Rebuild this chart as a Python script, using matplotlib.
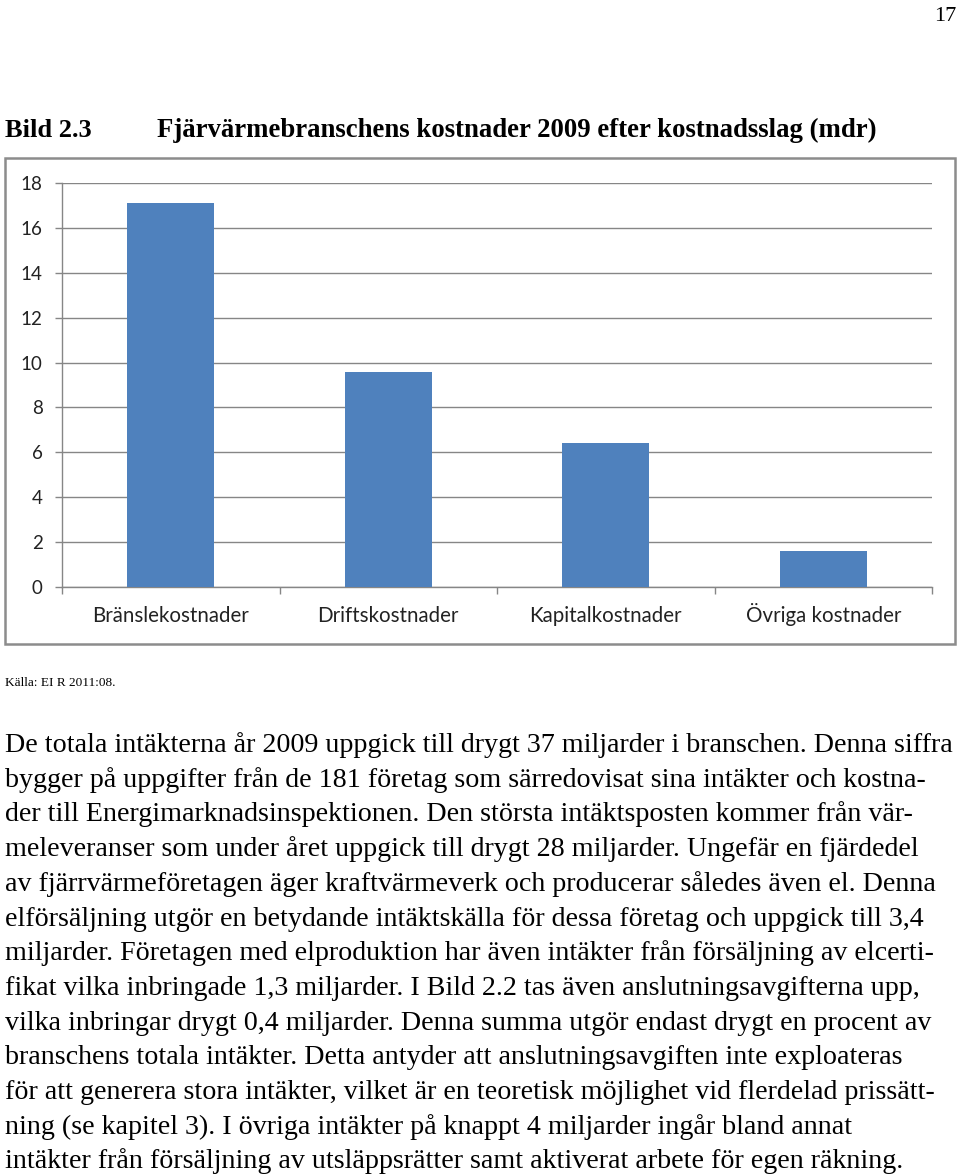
import numpy as np
import matplotlib.pyplot as plt
from matplotlib.patches import Rectangle

# data
categories = ['Bränslekostnader', 'Driftskostnader', 'Kapitalkostnader', 'Övriga kostnader']
kostnader = [17.1, 9.6, 6.4, 1.6]
yticks = [0, 2, 4, 6, 8, 10, 12, 14, 16, 18]

body_lines = [
    'De totala intäkterna år 2009 uppgick till drygt 37 miljarder i branschen. Denna siffra',
    'bygger på uppgifter från de 181 företag som särredovisat sina intäkter och kostna-',
    'der till Energimarknadsinspektionen. Den största intäktsposten kommer från vär-',
    'meleveranser som under året uppgick till drygt 28 miljarder. Ungefär en fjärdedel',
    'av fjärrvärmeföretagen äger kraftvärmeverk och producerar således även el. Denna',
    'elförsäljning utgör en betydande intäktskälla för dessa företag och uppgick till 3,4',
    'miljarder. Företagen med elproduktion har även intäkter från försäljning av elcerti-',
    'fikat vilka inbringade 1,3 miljarder. I Bild 2.2 tas även anslutningsavgifterna upp,',
    'vilka inbringar drygt 0,4 miljarder. Denna summa utgör endast drygt en procent av',
    'branschens totala intäkter. Detta antyder att anslutningsavgiften inte exploateras',
    'för att generera stora intäkter, vilket är en teoretisk möjlighet vid flerdelad prissätt-',
    'ning (se kapitel 3). I övriga intäkter på knappt 4 miljarder ingår bland annat',
    'intäkter från försäljning av utsläppsrätter samt aktiverat arbete för egen räkning.',
]

W, H = 960, 1175
fig = plt.figure(figsize=(W / 100, H / 100), dpi=100)

def fx(x):
    return x / W

def fy(y):
    return 1 - y / H

serif = 'Liberation Serif'
sans = 'Lato'
grey = '#868686'

# page header
fig.text(fx(956), fy(21), '17', fontsize=16, family=serif, ha='right', va='baseline')
fig.text(fx(5), fy(137), 'Bild 2.3', fontsize=19, family=serif, weight='bold', va='baseline')
fig.text(fx(157), fy(137), 'Fjärvärmebranschens kostnader 2009 efter kostnadsslag (mdr)',
         fontsize=19.3, family=serif, weight='bold', va='baseline')

# chart frame
fig.patches.append(Rectangle((fx(5), fy(644)), fx(950), (644 - 158) / H, transform=fig.transFigure,
                             fill=False, edgecolor='#8c8c8c', linewidth=1.8))

ax = fig.add_axes([fx(62), fy(587), fx(870), (587 - 183) / H])
x = np.arange(len(categories))
ax.bar(x, kostnader, width=0.4, color='#4f81bd', zorder=3)
ax.set_xlim(-0.5, len(categories) - 0.5)
ax.set_ylim(0, 18)
ax.set_yticks(yticks)
ax.set_yticklabels([str(v) for v in yticks], family=sans, fontsize=13.5, color='#222222')
ax.set_xticks(x)
ax.set_xticklabels(categories, family=sans, fontsize=14.8, color='#222222', va='baseline')
ax.set_xticks(np.arange(len(categories) + 1) - 0.5, minor=True)
ax.tick_params(axis='x', which='major', length=0, pad=25)
ax.tick_params(axis='x', which='minor', length=5, color=grey, width=1)
ax.tick_params(axis='y', length=5, color=grey, width=1, pad=9)
ax.grid(axis='y', color=grey, linewidth=1, zorder=0)
for s in ['top', 'right']:
    ax.spines[s].set_visible(False)
for s in ['left', 'bottom']:
    ax.spines[s].set_color(grey)
    ax.spines[s].set_linewidth(1)

# source and body text
fig.text(fx(5), fy(686), 'Källa: EI R 2011:08.', fontsize=9.5, family=serif, va='baseline')
for i, line in enumerate(body_lines):
    fig.text(fx(5), fy(752 + i * 34.7), line, fontsize=20.2, family=serif, va='baseline')

fig.savefig('out.png', dpi=100, facecolor='white')
